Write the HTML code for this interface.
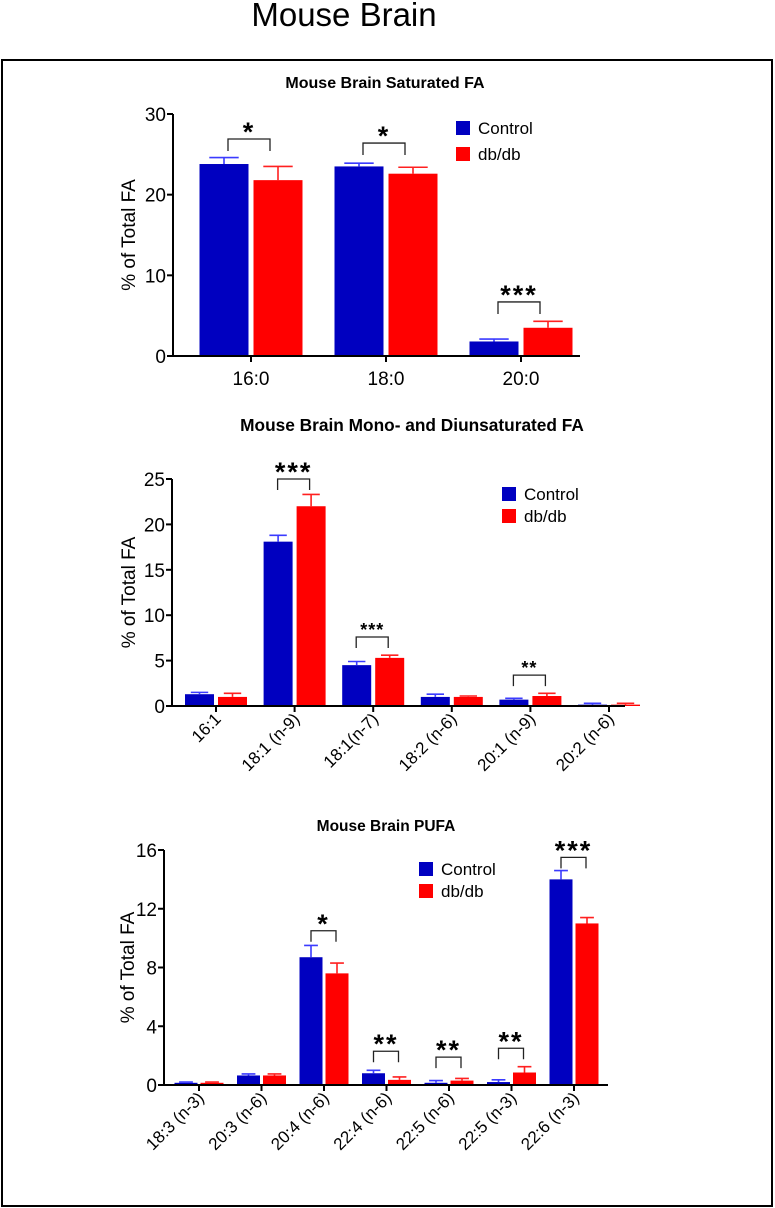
<!DOCTYPE html>
<html><head><meta charset="utf-8"><style>
html,body{margin:0;padding:0;background:#fff;}
svg{display:block;font-family:"Liberation Sans",Arial,sans-serif;}
</style></head><body>
<svg id="svg" width="775" height="1208" viewBox="0 0 775 1208" xmlns="http://www.w3.org/2000/svg">
<text x="344" y="26" font-size="33" text-anchor="middle">Mouse Brain</text>
<rect x="2" y="60" width="770" height="1146" fill="none" stroke="#000" stroke-width="2"/>
</svg>
<script>
// ---- Chart 1: Saturated FA ----
const satCategories = ["16:0","18:0","20:0"];
const satControl = [23.8, 23.5, 1.8];
const satControlErr = [24.6, 23.9, 2.1];
const satDb = [21.8, 22.6, 3.5];
const satDbErr = [23.5, 23.4, 4.3];
const satTicks = [0,10,20,30];
const satSig = ["*","*","***"];
const satSigLevel = [26.9, 26.4, 6.7];

// ---- Chart 2: Mono- and Diunsaturated FA ----
const monoCategories = ["16:1","18:1 (n-9)","18:1(n-7)","18:2 (n-6)","20:1 (n-9)","20:2 (n-6)"];
const monoControl = [1.3, 18.1, 4.5, 1.0, 0.7, 0.15];
const monoControlErr = [1.5, 18.8, 4.9, 1.3, 0.85, 0.3];
const monoDb = [1.0, 22.0, 5.3, 1.0, 1.1, 0.15];
const monoDbErr = [1.4, 23.3, 5.6, 1.1, 1.4, 0.3];
const monoTicks = [0,5,10,15,20,25];
const monoSig = ["","***","***","","**",""];
const monoSigLevel = [0, 25.0, 7.6, 0, 3.4, 0];

// ---- Chart 3: PUFA ----
const pufaCategories = ["18:3 (n-3)","20:3 (n-6)","20:4 (n-6)","22:4 (n-6)","22:5 (n-6)","22:5 (n-3)","22:6 (n-3)"];
const pufaControl = [0.15, 0.65, 8.7, 0.8, 0.15, 0.2, 14.0];
const pufaControlErr = [0.2, 0.75, 9.5, 1.0, 0.3, 0.35, 14.6];
const pufaDb = [0.15, 0.65, 7.6, 0.35, 0.3, 0.85, 11.0];
const pufaDbErr = [0.2, 0.75, 8.3, 0.55, 0.45, 1.25, 11.4];
const pufaTicks = [0,4,8,12,16];
const pufaSig = ["","","*","**","**","**","***"];
const pufaSigLevel = [0,0,10.5,2.3,1.9,2.5,15.5];

const NS="http://www.w3.org/2000/svg";
const svg=document.getElementById('svg');
function mk(tag,attrs,parent){const e=document.createElementNS(NS,tag);for(const k in attrs)e.setAttribute(k,attrs[k]);(parent||svg).appendChild(e);return e;}

function drawChart(o){
  const g=mk('g',{});
  
  
  const yScale=v=>o.y0-(v/o.ymax)*(o.y0-o.ytop);
  const xC=i=>o.x0c+i*o.step;
  const t=mk('text',{x:o.titleX,y:o.titleY,'font-size':o.titleSize,'font-weight':'bold','text-anchor':'middle'},g);
  t.textContent=o.title;
  
  
  const yl=mk('text',{x:0,y:0,'font-size':19,'text-anchor':'middle',transform:`translate(${o.ylabX},${(o.y0+o.ytop)/2}) rotate(-90)`},g);
  yl.textContent='% of Total FA';
  
  
  o.cats.forEach((c,i)=>{
    const cx=xC(i);
    [[o.ctrl[i],o.ctrlErr[i],'#0000c0','#3b3bff',cx-o.gap/2-o.bw,'control'],[o.db[i],o.dbErr[i],'#ff0000','#ff2020',cx+o.gap/2,'dbdb']].forEach(([v,e,col,ecol,bx,nm])=>{
      const yt=yScale(v);
      const r=mk('rect',{x:bx,y:yt,width:o.bw,height:o.y0-yt,fill:col},g);
      
      
      const ey=yScale(e),mx=bx+o.bw/2;
      const eb=mk('path',{d:`M${mx},${yt}V${ey}M${mx-o.bw*0.3},${ey}H${mx+o.bw*0.3}`,stroke:ecol,'stroke-width':1.6,fill:'none'},g);
      
      
    });
    if(o.sig[i]){
      const top=yScale(o.sigLevel[i]);
      const br=mk('path',{d:`M${cx-o.brL},${top+o.leg}V${top}H${cx+o.brR}V${top+o.leg}`,stroke:'#222','stroke-width':1.3,fill:'none'},g);
      
      
      const small=o.smallStar&&o.smallStar[i];
      const st=mk('text',{x:cx+(o.brR-o.brL)/2,y:top+(small?-1:2),'font-size':small?18:27,'font-weight':'bold','text-anchor':'middle','letter-spacing':small?1:2},g);
      st.textContent=o.sig[i];
      
      
    }
    const tk=mk('line',{x1:cx,x2:cx,y1:o.y0,y2:o.y0+6,stroke:'#000','stroke-width':2},g);
    
    
    let lab;
    if(o.rot){
      lab=mk('text',{x:0,y:0,'font-size':17,'text-anchor':'end',transform:`translate(${cx+6},${o.y0+14}) rotate(-45)`},g);
    } else {
      lab=mk('text',{x:cx,y:o.y0+29,'font-size':19,'text-anchor':'middle'},g);
    }
    lab.textContent=c;
    
    
  });
  const ax=mk('path',{d:`M${o.x0},${o.ytop}V${o.y0}H${o.xend}`,stroke:'#000','stroke-width':2,fill:'none'},g);
  
  
  o.ticks.forEach(v=>{
    const y=yScale(v);
    const l=mk('line',{x1:o.x0-6,x2:o.x0,y1:y,y2:y,stroke:'#000','stroke-width':2},g);
    
    
    const tt=mk('text',{x:o.x0-7,y:y+7,'font-size':19,'text-anchor':'end'},g);
    tt.textContent=v;
    
    
  });
  [['#0000c0','Control',0],['#ff0000','db/db',1]].forEach(([col,txt,k])=>{
    const y=o.legY+k*o.legStep;
    const s=mk('rect',{x:o.legX,y:y,width:14,height:14,fill:col},g);
    
    
    const tx=mk('text',{x:o.legX+22,y:y+13,'font-size':17},g);
    tx.textContent=txt;
    
    
  });
}

drawChart({name:'saturated-fa-chart',title:'Mouse Brain Saturated FA',titleX:385,titleY:88,titleSize:16,
  cats:satCategories,ctrl:satControl,ctrlErr:satControlErr,db:satDb,dbErr:satDbErr,ticks:satTicks,sig:satSig,sigLevel:satSigLevel,
  x0:173,xend:580,y0:356,ytop:114,ymax:30,x0c:251,step:135,bw:49,gap:5,brL:23,brR:19,leg:12,
  ylabX:135,legX:456,legY:121,legStep:26,rot:false});

drawChart({name:'mono-diunsaturated-fa-chart',title:'Mouse Brain Mono- and Diunsaturated FA',titleX:412,titleY:431,titleSize:17.3,
  cats:monoCategories,ctrl:monoControl,ctrlErr:monoControlErr,db:monoDb,dbErr:monoDbErr,ticks:monoTicks,sig:monoSig,sigLevel:monoSigLevel,
  smallStar:[false,false,true,false,true,false],
  x0:172,xend:625,y0:706,ytop:479,ymax:25,x0c:216,step:78.6,bw:29,gap:4,brL:17,brR:15,leg:11,
  ylabX:135,legX:502,legY:487,legStep:22,rot:true});

drawChart({name:'pufa-chart',title:'Mouse Brain PUFA',titleX:386,titleY:831,titleSize:15.5,
  cats:pufaCategories,ctrl:pufaControl,ctrlErr:pufaControlErr,db:pufaDb,dbErr:pufaDbErr,ticks:pufaTicks,sig:pufaSig,sigLevel:pufaSigLevel,
  x0:164,xend:608,y0:1085,ytop:850,ymax:16,x0c:199,step:62.5,bw:23,gap:3,brL:13,brR:12,leg:11,
  ylabX:134,legX:419,legY:862,legStep:22,rot:true});
</script>
</body></html>
